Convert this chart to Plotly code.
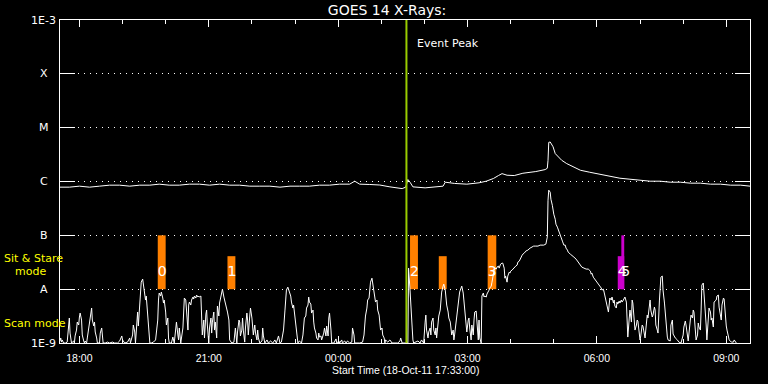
import numpy as np
import pandas as pd
import plotly.graph_objects as go

# ---------------- data ----------------
START = pd.Timestamp("2011-10-18 17:33:00")
END = START + pd.Timedelta(hours=16)

# GOES 14 short channel (0.5-4 A), minutes after start, flux in nW/m^2
short_minutes = [
    0, 1, 2, 3, 5, 8, 10, 12, 13, 14,
    16, 19, 20, 21, 23, 24, 26, 27, 28, 30,
    31, 33, 34, 35, 37, 38, 40, 41, 42, 44,
    45, 47, 48, 49, 51, 52, 55, 56, 58, 59,
    60, 63, 66, 69, 73, 76, 80, 83, 86, 87,
    90, 94, 97, 98, 101, 102, 104, 105, 106, 108,
    109, 111, 112, 113, 115, 116, 118, 119, 120, 122,
    123, 125, 127, 130, 133, 134, 136, 137, 138, 140,
    141, 143, 144, 145, 147, 148, 150, 151, 152, 155,
    157, 159, 161, 162, 164, 165, 166, 168, 171, 172,
    173, 175, 176, 178, 179, 180, 182, 183, 185, 186,
    187, 189, 190, 192, 193, 194,
    196, 197, 198, 200, 201, 203, 204, 205, 207, 208,
    210, 211, 212, 214, 215, 216, 218, 219, 221, 222,
    223, 225, 226, 228, 229, 230, 232, 233, 235, 236,
    239, 242, 244, 246, 247, 249, 250, 251, 253, 254,
    255, 257, 258, 260, 261, 262, 264, 265, 267, 268,
    269, 271, 272, 274, 275, 276, 278, 281, 282, 283,
    285, 288, 290, 293, 296, 299, 301, 304, 306, 308,
    311, 313, 314, 315, 317, 318, 320, 321, 322, 324,
    325, 327, 328, 329, 331, 333, 336, 338, 339, 340,
    342, 343, 345, 346, 347, 349, 350, 352, 353, 354,
    356, 357, 359, 360, 361, 363, 364, 367, 368, 370,
    371, 373, 374, 375, 377, 378,
    381, 384, 385, 388, 389, 392, 393, 396, 398, 400,
    403, 406, 407, 409, 410, 417, 421, 423, 424, 425,
    427, 428, 430, 431, 432, 434, 435, 437, 438, 439,
    441, 442, 444, 445, 446, 448, 449, 451, 452, 453,
    456, 459, 462, 470, 473, 474, 476, 484, 485, 487,
    488, 490, 491, 492, 498, 501, 503, 506, 508, 509,
    510, 512, 513, 515, 516, 517, 519, 520, 522, 523,
    524, 526, 527, 529, 530, 531, 533, 534, 536, 537,
    538, 540, 541, 543, 544, 545, 547, 548, 549, 551,
    552, 554, 555, 556, 558, 559, 561, 562, 563, 565,
    566, 568, 569, 570,
    572, 573, 575, 576, 577, 579, 580, 582, 583, 584,
    586, 587, 589, 590, 591, 593, 594, 596, 597, 598,
    600, 601, 603, 604, 605, 607, 608, 610, 611, 612,
    613, 615, 616, 618, 619, 620, 622, 623, 625, 626,
    627, 629, 630, 632, 633, 634, 636, 637, 639, 640,
    641, 643, 644, 646, 648, 651, 654, 657, 659, 662,
    665, 668, 671, 673, 676, 678, 679, 680, 682, 683,
    685, 686, 687, 689, 690, 692, 693, 694, 696, 697,
    699, 700, 701, 703, 704, 706, 707, 710, 712, 715,
    718, 721, 724, 726, 729, 732, 735, 738, 739, 740,
    742, 743, 746, 749, 751, 753, 754, 756,
    757, 758, 760, 761, 763, 764, 765, 767, 768, 770,
    771, 772, 774, 775, 776, 778, 779, 781, 782, 783,
    785, 786, 788, 789, 790, 792, 793, 795, 796, 797,
    799, 800, 802, 803, 804, 806, 807, 808, 810, 811,
    813, 814, 815, 817, 818, 820, 821, 822, 824, 825,
    827, 828, 829, 831, 832, 834, 835, 836, 838, 839,
    841, 842, 843, 845, 846, 849, 850, 852, 853, 856,
    859, 861, 864, 867, 868, 870, 871, 873, 874, 877,
    878, 880, 881, 882, 884, 885, 887, 888, 889, 891,
    892, 893, 895, 896, 898, 899, 900, 902, 903, 905,
    906, 907, 909, 910, 912, 913, 914, 916, 917, 919,
    920, 921, 923, 924, 926, 927, 928, 930, 931, 934,
    937, 938, 939, 941,
]
short_nW = [
    1.09, 1.24, 1.04, 1.14, 1.0, 1.0, 1.04, 1.74, 2.91, 1.53,
    1.0, 1.09, 1.0, 1.35, 1.74, 2.45, 2.16, 3.04, 3.6, 2.67,
    1.41, 1.09, 1.0, 1.09, 1.0, 1.24, 2.07, 2.45, 3.17, 4.46,
    2.67, 2.07, 2.45, 1.6, 1.24, 1.0, 1.0, 1.53, 1.9, 1.29,
    1.0, 1.0, 1.04, 1.0, 1.04, 1.0, 1.0, 1.09, 1.35, 1.14,
    1.0, 1.04, 1.24, 1.0, 1.41, 2.16, 1.6, 1.0, 1.47, 3.76,
    2.07, 6.84, 9.63, 13.5, 15.4, 12.4, 8.84, 6.28, 7.45, 3.76,
    1.9, 1.0, 1.0, 1.04, 1.14, 1.6, 2.67, 6.28, 8.47, 7.45,
    8.84, 6.84, 5.52, 6.28, 3.76, 2.16, 2.91, 1.24, 1.0, 1.0,
    1.29, 1.0, 1.6, 2.45, 1.41, 1.14, 1.9, 1.0, 1.9, 4.46,
    6.84, 6.28, 3.76, 1.74, 5.07, 5.76, 5.07, 6.28, 7.14, 6.55,
    7.45, 6.84, 7.78, 7.14, 7.45, 7.14,
    7.45, 3.76, 1.41, 2.67, 1.24, 3.45, 4.09, 2.16, 1.0, 1.9,
    2.91, 1.53, 2.45, 3.76, 1.74, 2.45, 1.24, 4.86, 3.17, 5.52,
    6.28, 8.12, 10.0, 7.14, 6.28, 5.52, 4.86, 3.76, 2.67, 1.14,
    1.0, 1.04, 1.9, 1.0, 1.6, 2.67, 2.45, 1.35, 1.74, 2.91,
    1.74, 1.04, 1.9, 3.6, 2.67, 1.41, 3.17, 4.46, 2.91, 2.16,
    1.41, 2.16, 1.53, 1.14, 1.74, 1.24, 1.0, 1.09, 1.9, 1.35,
    1.0, 1.14, 1.0, 1.09, 1.0, 1.14, 1.0, 1.35, 1.0, 1.04,
    1.74, 4.09, 6.28, 9.63, 10.9, 10.0, 7.78, 7.45, 5.76, 4.46,
    5.07, 2.91, 2.16, 1.41, 1.0, 1.09, 1.0, 1.41, 2.45, 2.91,
    3.17, 4.46, 5.07, 7.14, 5.76, 5.29, 3.6, 4.09, 2.45, 1.9,
    1.53, 1.24, 1.14, 1.53, 1.29, 1.35, 1.14, 1.53, 1.9, 1.35,
    2.07, 1.35, 2.91, 3.6, 1.74, 1.0,
    1.0, 1.19, 1.0, 1.09, 1.0, 1.14, 1.0, 1.09, 1.0, 1.09,
    1.0, 1.04, 1.9, 1.41, 1.0, 1.0, 1.04, 1.41, 2.16, 3.17,
    4.46, 6.28, 6.84, 9.63, 13.5, 16.0, 13.5, 8.84, 7.45, 5.76,
    6.28, 4.09, 3.3, 2.45, 1.74, 1.9, 1.41, 1.24, 1.0, 1.14,
    1.04, 1.14, 1.0, 1.0, 1.09, 1.24, 1.0, 1.0, 24.6, 9.63,
    4.46, 1.9, 1.14, 1.0, 1.09, 1.0, 1.14, 1.0, 2.45, 3.3,
    1.74, 1.24, 1.6, 1.9, 1.41, 2.45, 2.91, 1.74, 1.41, 1.9,
    1.24, 2.16, 3.17, 4.09, 6.28, 8.84, 11.4, 12.4, 9.63, 6.84,
    5.07, 3.76, 2.91, 2.45, 1.9, 1.41, 1.74, 1.14, 1.41, 2.45,
    3.3, 4.46, 6.28, 8.84, 10.5, 11.4, 8.47, 6.28, 4.09, 2.45,
    1.6, 2.67, 2.91, 1.9,
    1.14, 2.16, 1.41, 2.67, 3.76, 3.92, 2.16, 1.14, 2.67, 1.24,
    1.0, 7.45, 8.47, 7.14, 7.45, 7.14, 8.12, 8.84, 9.63, 10.5,
    11.4, 13.5, 22.6, 22.6, 24.6, 23.6, 25.7, 26.8, 24.6, 26.8,
    29.2, 30.5, 30.5, 24.6, 16.0, 17.5, 13.5, 17.5, 20.7, 19.9,
    21.6, 22.6, 23.6, 24.6, 25.7, 26.8, 28.0, 31.8, 33.2, 36.2,
    37.8, 42.9, 44.8, 46.8, 50.9, 53.2, 57.9, 60.4, 63.1, 63.1,
    63.1, 65.8, 65.8, 65.8, 68.7, 92.7, 449, 690, 633, 468,
    362, 293, 247, 199, 161, 142, 130, 110, 96.7, 92.7,
    78.1, 71.7, 65.8, 65.8, 57.9, 53.2, 48.8, 44.8, 42.9, 39.4,
    36.2, 31.8, 29.2, 25.7, 24.6, 23.6, 23.6, 21.6, 19.0, 19.9,
    16.7, 16.0, 14.7, 13.0, 11.4, 10.5, 9.63, 10.0,
    8.84, 7.45, 6.28, 4.65, 3.76, 5.07, 6.84, 6.28, 7.14, 5.52,
    6.28, 4.86, 4.46, 5.76, 5.29, 6.01, 5.52, 6.28, 5.76, 6.01,
    6.84, 7.14, 5.76, 2.45, 1.29, 2.91, 4.09, 2.45, 6.28, 5.52,
    2.35, 1.74, 2.16, 2.67, 2.56, 1.53, 1.14, 1.35, 2.16, 2.07,
    1.35, 1.24, 1.74, 3.3, 2.91, 5.07, 6.28, 4.09, 3.04, 3.3,
    4.65, 4.09, 2.16, 1.74, 1.53, 6.28, 13.0, 16.7, 17.5, 9.63,
    5.52, 3.6, 2.45, 1.29, 1.14, 1.09, 2.16, 2.67, 1.47, 1.24,
    1.14, 1.04, 1.0, 1.41, 1.98, 2.56, 2.16, 1.14, 1.09, 2.67,
    3.3, 2.91, 4.09, 3.76, 1.98, 1.14, 1.41, 2.35, 1.98, 1.74,
    4.09, 11.9, 13.0, 8.47, 4.65, 2.16, 1.14, 4.09, 4.46, 3.76,
    2.67, 2.91, 1.98, 5.76, 6.28, 6.28, 7.45, 7.78, 4.65, 3.3,
    2.67, 5.07, 6.84, 6.55, 2.35, 2.07, 1.74, 1.24, 1.14, 1.04,
    1.04, 1.14, 1.09, 1.0,
]

# GOES 14 long channel (1-8 A), minutes after start, flux in nW/m^2
long_minutes = [
    0, 13, 27, 41, 55, 69, 83, 97, 111, 125,
    138, 152, 166, 180, 194, 208, 222, 236, 250, 264,
    278, 292, 306, 320, 333, 347, 361, 375, 389, 403,
    410, 417, 431, 445, 459, 476, 481, 483, 484, 487,
    491, 508, 526, 533, 536, 549, 566, 583, 593, 603,
    610, 615, 622, 632, 644, 662, 675, 678, 679, 680,
    682, 686, 689, 693, 698, 705, 714, 724, 737, 751,
    765, 779, 793, 807, 821, 835, 849, 863, 877, 891,
    905, 919, 933, 947, 960,
]
long_nW = [
    785, 785, 819, 785, 819, 855, 855, 819, 855, 855,
    892, 855, 855, 892, 892, 855, 892, 855, 855, 819,
    819, 819, 785, 819, 819, 819, 855, 855, 892, 892,
    1013, 892, 880, 860, 795, 738, 785, 1057, 1090, 971,
    795, 762, 795, 819, 971, 920, 892, 945, 1013, 1137,
    1290, 1400, 1308, 1290, 1424, 1530, 1665, 1763, 2480, 5340,
    5420, 4420, 3300, 2860, 2480, 2150, 1870, 1619, 1486, 1365,
    1253, 1151, 1103, 1057, 1013, 1013, 971, 971, 931, 931,
    892, 892, 855, 855, 819,
]

level_values = [1e-9, 1e-8, 1e-7, 1e-6, 1e-5, 1e-4, 1e-3]
level_labels = ["1E-9", "A", "B", "C", "M", "X", "1E-3"]

# observation windows (minutes after start) and their extent in flux
obs_start_min = [136, 233, 487, 527, 595, 776, 781]
obs_end_min = [147, 244, 498, 538, 607, 785, 785]
obs_top = [1e-7, 4.1e-8, 1e-7, 4.1e-8, 1e-7, 4.1e-8, 1e-7]
obs_bottom = 1e-8
obs_color = ["#ff8000", "#ff8000", "#ff8000", "#ff8000", "#ff8000", "#cc00cc", "#cc00cc"]
obs_label = ["0", "1", "2", "", "3", "4", "5"]
obs_label_flux = 2.07e-8

event_peak_min = 482

# ---------------- figure ----------------
assert len(short_minutes) == len(short_nW)
assert len(long_minutes) == len(long_nW)


def to_time(mins):
    return START + pd.to_timedelta(np.asarray(mins, dtype=float), unit="min")


fig = go.Figure()

for s, e, top, col in zip(obs_start_min, obs_end_min, obs_top, obs_color):
    t = to_time([s, s, e, e, s])
    fig.add_trace(go.Scatter(
        x=t, y=[obs_bottom, top, top, obs_bottom, obs_bottom],
        mode="lines", fill="toself", fillcolor=col,
        line=dict(width=0, color=col), hoverinfo="skip"))

fig.add_trace(go.Scatter(
    x=to_time(long_minutes), y=np.array(long_nW) * 1e-9,
    mode="lines", line=dict(color="white", width=1)))
fig.add_trace(go.Scatter(
    x=to_time(short_minutes), y=np.array(short_nW) * 1e-9,
    mode="lines", line=dict(color="white", width=1)))

lab_idx = [i for i, l in enumerate(obs_label) if l]
fig.add_trace(go.Scatter(
    x=to_time([obs_start_min[i] for i in lab_idx]),
    y=[obs_label_flux] * len(lab_idx),
    text=[obs_label[i] for i in lab_idx],
    mode="text", textposition="middle right",
    textfont=dict(color="white", size=14, family="DejaVu Sans")))

ev_t = to_time([event_peak_min])[0]
fig.add_shape(type="line", xref="x", yref="paper", x0=ev_t, x1=ev_t, y0=0, y1=1,
              line=dict(color="#99cc00", width=2))
fig.add_annotation(x=ev_t, y=0.927, xref="x", yref="paper", text="Event Peak",
                   showarrow=False, xanchor="left", yanchor="middle", xshift=9,
                   font=dict(color="white", size=11, family="DejaVu Sans"))

for v, lab in zip(level_values, level_labels):
    fig.add_annotation(x=-0.0232, y=np.log10(v), xref="paper", yref="y", text=lab,
                       showarrow=False, xanchor="center", yanchor="middle",
                       font=dict(color="white", size=11, family="DejaVu Sans"))

yellow = "#ffff00"
fig.add_annotation(x=-0.0841, y=0.263, xref="paper", yref="paper", text="Sit & Stare",
                   showarrow=False, xanchor="left", yanchor="middle",
                   font=dict(color=yellow, size=11, family="DejaVu Sans"))
fig.add_annotation(x=-0.0681, y=0.2226, xref="paper", yref="paper", text="mode",
                   showarrow=False, xanchor="left", yanchor="middle",
                   font=dict(color=yellow, size=11, family="DejaVu Sans"))
fig.add_annotation(x=-0.0841, y=0.0618, xref="paper", yref="paper", text="Scan mode",
                   showarrow=False, xanchor="left", yanchor="middle",
                   font=dict(color=yellow, size=11, family="DejaVu Sans"))
fig.add_annotation(x=0.5, y=-0.0835, xref="paper", yref="paper",
                   text="Start Time (18-Oct-11 17:33:00)",
                   showarrow=False, xanchor="center", yanchor="middle",
                   font=dict(color="white", size=10.5, family="Liberation Sans"))

fig.update_layout(
    width=768, height=384,
    margin=dict(l=60, r=18, t=20, b=41),
    paper_bgcolor="black", plot_bgcolor="black",
    showlegend=False,
    font=dict(family="DejaVu Sans", size=11, color="white"),
    title=dict(text="GOES 14 X-Rays:", x=0.504, xref="container", xanchor="center",
               y=0.974, yref="container", yanchor="middle",
               font=dict(size=14, color="white", family="DejaVu Sans")),
    xaxis=dict(
        type="date", range=[START, END],
        showline=True, linecolor="white", linewidth=1, mirror="ticks",
        ticks="inside", ticklen=7, tickcolor="white", tickwidth=1,
        tick0="2011-10-18 18:00:00", dtick=3 * 3600000, tickformat="%H:%M",
        showgrid=False, zeroline=False,
        tickfont=dict(size=10.5, color="white", family="Liberation Sans"),
        ticklabelstandoff=5,
        minor=dict(tick0="2011-10-18 18:00:00", dtick=3600000, ticks="inside",
                   ticklen=4, tickcolor="white", showgrid=False),
    ),
    yaxis=dict(
        type="log", range=[-9, -3],
        showline=True, linecolor="white", linewidth=1, mirror="ticks",
        ticks="inside", ticklen=15, tickcolor="white",
        tickvals=level_values, showticklabels=False,
        showgrid=True, gridcolor="white", gridwidth=1, griddash="1px,5px",
        zeroline=False,
    ),
)

fig.write_html("out.html",
               config={"displayModeBar": False},
               post_script="document.body.style.margin='0px';"
                           "document.body.style.background='black';")
